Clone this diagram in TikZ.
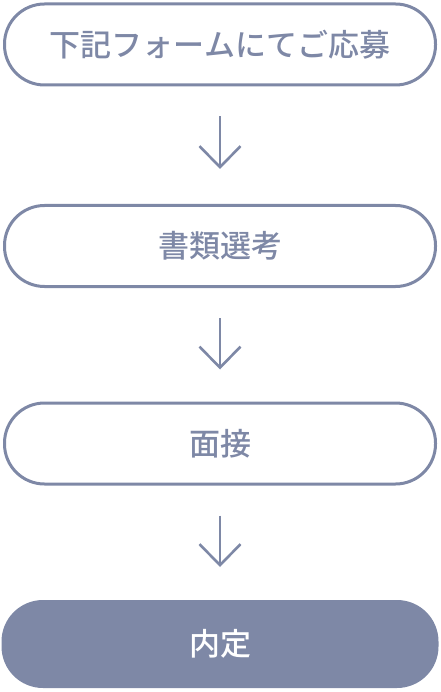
\documentclass[tikz,border=0pt]{standalone}
\usepackage{fontspec}
\usepackage{xcolor}
\usepackage{tikz}
\usetikzlibrary{arrows.meta,calc}
\newfontfamily\jpfont{Noto Sans CJK JP Medium}
\definecolor{flowgray}{HTML}{7E88A6}

\begin{document}
\begin{tikzpicture}[x=1pt, y=-1pt,
    stepbox/.style={draw=flowgray, line width=3pt, rounded corners=40pt, minimum width=431pt, minimum height=81pt, inner sep=0pt, text=flowgray, font=\jpfont\fontsize{31}{34}\selectfont},
    lastbox/.style={stepbox, fill=flowgray, text=white, minimum width=434pt, minimum height=85pt},
    flowarrow/.style={draw=flowgray, line width=2.6pt, -{Straight Barb[length=21pt, width=41pt]}}]
            \useasboundingbox (0, 0) rectangle (440, 692);
            \node[stepbox] (apply) at (220, 44.5) {下記フォームにてご応募};
            \node[stepbox] (screen) at (220, 246) {書類選考};
            \node[stepbox] (interview) at (220, 443.5) {面接};
            \node[lastbox] (offer) at (220, 644) {内定};
            \draw[flowarrow] ($(apply.south) + (0, 30)$) -- ($(screen.north) + (0, -35)$);
            \draw[flowarrow] ($(screen.south) + (0, 30)$) -- ($(interview.north) + (0, -32)$);
            \draw[flowarrow] ($(interview.south) + (0, 30)$) -- ($(offer.north) + (0, -33)$);
          \end{tikzpicture}
\end{document}
